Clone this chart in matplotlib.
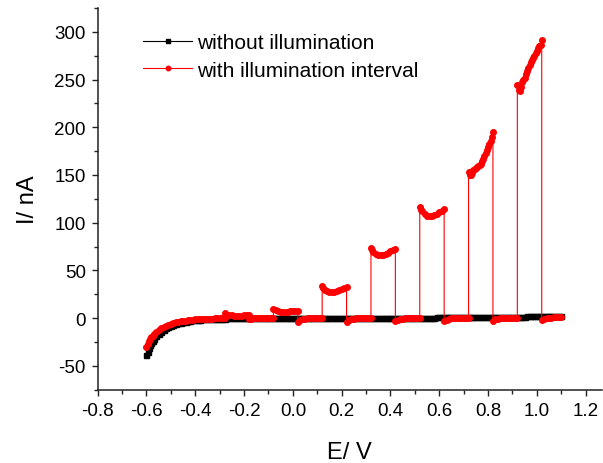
import matplotlib
matplotlib.use("Agg")
import matplotlib.pyplot as plt
from matplotlib.ticker import MultipleLocator, FixedLocator

plt.rcParams['font.family'] = ['Liberation Sans', 'DejaVu Sans']

# ---- data: potential E (V) and current I (nA) ----
dark_E = [
    -0.60, -0.595, -0.59, -0.585, -0.58, -0.575, -0.57, -0.56, -0.55, -0.54, -0.53, -0.52, -0.51,
    -0.50, -0.49, -0.48, -0.47, -0.46, -0.45, -0.44, -0.43, -0.42, -0.41,
    -0.40, -0.39, -0.38, -0.37, -0.36, -0.35, -0.34, -0.33, -0.32, -0.31,
    -0.30, -0.29, -0.28, -0.27, -0.26, -0.25, -0.24, -0.23, -0.22, -0.21,
    -0.20, -0.19, -0.18, -0.17, -0.16, -0.15, -0.14, -0.13, -0.12, -0.11,
    -0.10, -0.09, -0.08, -0.07, -0.06, -0.05, -0.04, -0.03, -0.02, -0.01,
    0.00, 0.01, 0.02, 0.03, 0.04, 0.05, 0.06, 0.07, 0.08, 0.09,
    0.10, 0.11, 0.12, 0.13, 0.14, 0.15, 0.16, 0.17, 0.18, 0.19,
    0.20, 0.21, 0.22, 0.23, 0.24, 0.25, 0.26, 0.27, 0.28, 0.29,
    0.30, 0.31, 0.32, 0.33, 0.34, 0.35, 0.36, 0.37, 0.38, 0.39,
    0.40, 0.41, 0.42, 0.43, 0.44, 0.45, 0.46, 0.47, 0.48, 0.49,
    0.50, 0.51, 0.52, 0.53, 0.54, 0.55, 0.56, 0.57, 0.58, 0.59,
    0.60, 0.61, 0.62, 0.63, 0.64, 0.65, 0.66, 0.67, 0.68, 0.69,
    0.70, 0.71, 0.72, 0.73, 0.74, 0.75, 0.76, 0.77, 0.78, 0.79,
    0.80, 0.81, 0.82, 0.83, 0.84, 0.85, 0.86, 0.87, 0.88, 0.89,
    0.90, 0.91, 0.92, 0.93, 0.94, 0.95, 0.96, 0.97, 0.98, 0.99,
    1.00, 1.01, 1.02, 1.03, 1.04, 1.05, 1.06, 1.07, 1.08, 1.09,
    1.10,
]
dark_I = [
    -39.0, -35.0, -31.0, -28.3, -26.0, -23.8, -22.0, -19.0, -16.5, -14.2, -12.4, -10.8, -9.4,
    -8.2, -7.2, -6.3, -5.5, -4.8, -4.2, -3.7, -3.2, -2.8, -2.4,
    -2.1, -1.8, -1.6, -1.4, -1.2, -1.0, -0.9, -0.8, -0.7, -0.6,
    -0.5, -0.45, -0.4, -0.35, -0.3, -0.25, -0.2, -0.18, -0.15, -0.12,
    -0.1, -0.08, -0.06, -0.05, -0.04, -0.03, -0.02, -0.01, 0.0, 0.0,
    0.0, 0.0, 0.0, 0.0, 0.0, 0.0, 0.0, 0.0, 0.0, 0.0,
    0.0, 0.0, 0.02, 0.03, 0.04, 0.05, 0.06, 0.07, 0.08, 0.09,
    0.1, 0.11, 0.12, 0.13, 0.14, 0.15, 0.16, 0.17, 0.18, 0.19,
    0.2, 0.21, 0.22, 0.23, 0.24, 0.25, 0.26, 0.27, 0.28, 0.29,
    0.3, 0.31, 0.32, 0.33, 0.34, 0.35, 0.36, 0.37, 0.38, 0.39,
    0.4, 0.41, 0.42, 0.43, 0.44, 0.45, 0.46, 0.47, 0.48, 0.49,
    0.5, 0.52, 0.54, 0.56, 0.58, 0.6, 0.62, 0.64, 0.66, 0.68,
    0.7, 0.72, 0.74, 0.76, 0.78, 0.8, 0.82, 0.84, 0.86, 0.88,
    0.9, 0.93, 0.96, 0.99, 1.02, 1.05, 1.08, 1.11, 1.14, 1.17,
    1.2, 1.23, 1.26, 1.29, 1.32, 1.35, 1.38, 1.41, 1.44, 1.47,
    1.5, 1.54, 1.58, 1.62, 1.66, 1.7, 1.74, 1.78, 1.82, 1.86,
    1.9, 1.94, 1.98, 2.02, 2.06, 2.1, 2.14, 2.18, 2.22, 2.26,
    2.3,
]

light_E = [
    -0.60, -0.595, -0.59, -0.585, -0.58, -0.575, -0.57, -0.56, -0.55, -0.54, -0.53, -0.52, -0.51,
    -0.50, -0.49, -0.48, -0.47, -0.46, -0.45, -0.44, -0.43, -0.42, -0.41,
    -0.40, -0.39, -0.38, -0.37, -0.36, -0.35, -0.34, -0.33, -0.32, -0.31,
    -0.30, -0.29, -0.28,
    -0.28, -0.27, -0.26, -0.25, -0.24, -0.23, -0.22, -0.21, -0.20, -0.19, -0.18,
    -0.18, -0.17, -0.16, -0.15, -0.14, -0.13, -0.12, -0.11, -0.10, -0.09, -0.08,
    -0.08, -0.07, -0.06, -0.05, -0.04, -0.03, -0.02, -0.01, 0.00, 0.01, 0.02,
    0.02, 0.03, 0.04, 0.05, 0.06, 0.07, 0.08, 0.09, 0.10, 0.11, 0.12,
    0.12, 0.125, 0.13, 0.14, 0.15, 0.16, 0.17, 0.18, 0.19, 0.20, 0.21, 0.22,
    0.22, 0.23, 0.24, 0.25, 0.26, 0.27, 0.28, 0.29, 0.30, 0.31, 0.32,
    0.32, 0.325, 0.33, 0.34, 0.35, 0.36, 0.37, 0.38, 0.39, 0.40, 0.41, 0.42,
    0.42, 0.43, 0.44, 0.45, 0.46, 0.47, 0.48, 0.49, 0.50, 0.51, 0.52,
    0.52, 0.525, 0.53, 0.54, 0.55, 0.56, 0.57, 0.58, 0.59, 0.60, 0.61, 0.62,
    0.62, 0.63, 0.64, 0.65, 0.66, 0.67, 0.68, 0.69, 0.70, 0.71, 0.72,
    0.72, 0.725, 0.73, 0.735, 0.74, 0.745, 0.75, 0.755, 0.76, 0.765, 0.77,
    0.775, 0.78, 0.785, 0.79, 0.795, 0.80, 0.805, 0.81, 0.815, 0.82,
    0.82, 0.83, 0.84, 0.85, 0.86, 0.87, 0.88, 0.89, 0.90, 0.91, 0.92,
    0.92, 0.925, 0.93, 0.935, 0.94, 0.945, 0.95, 0.955, 0.96, 0.965, 0.97,
    0.975, 0.98, 0.985, 0.99, 0.995, 1.00, 1.005, 1.01, 1.015, 1.02,
    1.02, 1.03, 1.04, 1.05, 1.06, 1.07, 1.08, 1.09, 1.10,
]
light_I = [
    -30.0, -27.0, -24.0, -22.0, -20.0, -18.3, -16.8, -14.2, -12.2, -10.5, -9.1, -7.9, -6.9,
    -6.0, -5.2, -4.5, -3.9, -3.4, -2.9, -2.5, -2.1, -1.8, -1.5,
    -1.3, -1.1, -0.9, -0.8, -0.7, -0.6, -0.5, -0.4, -0.3, -0.25,
    -0.2, -0.1, 0.0,
    5.0, 3.8, 3.2, 2.9, 2.7, 2.6, 2.6, 2.7, 2.8, 3.0, 3.2,
    -1.0, -0.5, -0.2, -0.1, 0.0, 0.0, 0.0, 0.0, 0.0, 0.0, 0.0,
    10.0, 8.2, 7.3, 6.9, 6.7, 6.7, 6.8, 7.0, 7.2, 7.5, 7.8,
    -4.0, -2.0, -1.0, -0.5, -0.2, 0.0, 0.0, 0.0, 0.0, 0.0, 0.0,
    34.0, 31.5, 30.0, 28.0, 27.0, 27.0, 27.5, 28.5, 29.5, 30.5, 31.5, 32.5,
    -4.5, -2.2, -1.1, -0.5, -0.2, 0.0, 0.0, 0.0, 0.0, 0.0, 0.1,
    74.0, 71.5, 69.5, 67.5, 66.5, 66.0, 66.5, 67.5, 68.5, 70.0, 71.5, 72.5,
    -3.5, -1.8, -0.9, -0.4, -0.1, 0.1, 0.1, 0.2, 0.2, 0.2, 0.2,
    116.0, 113.5, 112.0, 109.0, 107.5, 107.0, 107.5, 108.5, 109.5, 111.0, 112.5, 114.0,
    -3.0, -1.5, -0.7, -0.3, 0.0, 0.2, 0.3, 0.3, 0.3, 0.3, 0.3,
    153.0, 150.0, 149.5, 152.0, 155.0, 156.5, 157.5, 158.2, 159.0, 160.3, 162.0,
    164.3, 167.0, 170.0, 173.0, 176.0, 179.0, 182.5, 186.0, 190.0, 195.0,
    -2.5, -1.2, -0.5, -0.1, 0.2, 0.4, 0.4, 0.5, 0.5, 0.5, 0.5,
    244.0, 239.0, 238.0, 242.0, 247.0, 250.0, 252.0, 256.0, 259.0, 262.0, 265.0,
    268.0, 270.0, 272.5, 275.0, 277.5, 280.0, 283.0, 285.0, 286.5, 291.0,
    -2.0, -0.8, -0.2, 0.3, 0.6, 0.8, 0.9, 1.0, 1.1,
]

dark_label = "without illumination"
light_label = "with illumination interval"
x_ticks = [-0.8, -0.6, -0.4, -0.2, 0.0, 0.2, 0.4, 0.6, 0.8, 1.0, 1.2]
y_ticks = [-50, 0, 50, 100, 150, 200, 250, 300]

# ---- figure ----
fig = plt.figure(figsize=(6.03, 4.64), dpi=100)
ax = fig.add_axes([97.7 / 603, 1 - 390.7 / 464, (602 - 97.7) / 603, (390.7 - 9) / 464])

ax.plot(dark_E, dark_I, color='black', lw=0.8, marker='s', ms=3.6,
        mec='black', mfc='black', label=dark_label, zorder=2)
ax.plot(light_E, light_I, color='red', lw=0.8, marker='o', ms=4.0,
        mec='red', mfc='red', label=light_label, zorder=3)

ax.set_xlim(-0.8, 1.267)
ax.set_ylim(-75, 325)
ax.xaxis.set_major_locator(FixedLocator(x_ticks))
ax.yaxis.set_major_locator(FixedLocator(y_ticks))
ax.set_xticklabels([f"{v:.1f}" for v in x_ticks])
ax.set_yticklabels([f"{v:d}" for v in y_ticks])
ax.xaxis.set_minor_locator(MultipleLocator(0.1))
ax.yaxis.set_minor_locator(MultipleLocator(25))

for s in ['top', 'right']:
    ax.spines[s].set_visible(False)
for s in ['left', 'bottom']:
    ax.spines[s].set_linewidth(1.1)
    ax.spines[s].set_color('#222222')

ax.tick_params(which='major', direction='out', length=4.5, width=1.0,
               labelsize=13.5, pad=4, color='#222222')
ax.tick_params(which='minor', direction='out', length=2.6, width=1.0, color='#222222')

ax.set_xlabel("E/ V", fontsize=17, labelpad=16)
ax.set_ylabel("I/ nA", fontsize=17, labelpad=11)

leg = ax.legend(loc='upper left', bbox_to_anchor=(0.09, 0.934), frameon=False,
                fontsize=15, handlelength=2.35, handletextpad=0.24,
                borderpad=0, borderaxespad=0, labelspacing=0.41,
                markerscale=0.8)

fig.savefig("out.png", dpi=100)
